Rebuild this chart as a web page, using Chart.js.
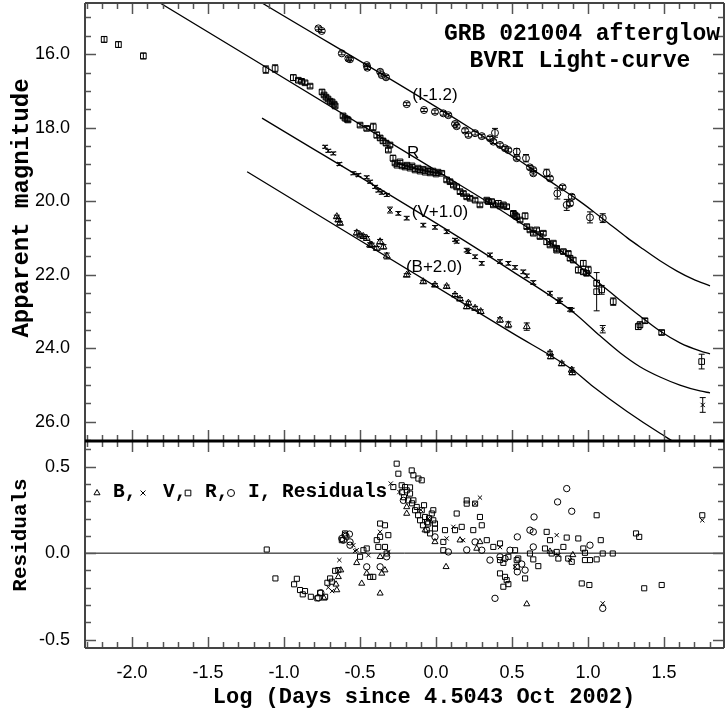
<!DOCTYPE html>
<html><head><meta charset="utf-8">
<script src="https://cdn.jsdelivr.net/npm/chart.js@4/dist/chart.umd.min.js"></script>
<style>
html,body{margin:0;padding:0;background:#fff;}
#wrap{position:relative;width:725px;height:713px;overflow:hidden;}
canvas{position:absolute;left:0;top:0;}
</style></head><body>
<div id="wrap"><canvas id="c1" width="725" height="713"></canvas><canvas id="c2" width="725" height="713"></canvas></div>
<script>
// ---------- axis ranges & tick labels ----------
const X_MIN = -2.31, X_MAX = 1.895;
const MAG_TOP = 14.61, MAG_BOTTOM = 26.52;
const RES_MIN = -0.548, RES_MAX = 0.648;
const magTickLabels = [16, 18, 20, 22, 24, 26];
const xTickLabels = [-2.0, -1.5, -1.0, -0.5, 0.0, 0.5, 1.0, 1.5];
const resTickLabels = [-0.5, 0.0, 0.5];

// ---------- light-curve data (log days, magnitude) ----------
const R_x = [-2.184,-2.09,-1.926,-1.12,-1.059,-0.939,-0.906,-0.884,-0.862,-0.829,-0.75,-0.737,-0.724,-0.711,-0.697,-0.684,-0.671,-0.664,-0.612,-0.599,-0.586,-0.579,-0.5,-0.456,-0.413,-0.39,-0.368,-0.349,-0.329,-0.303,-0.314,
 -0.283,-0.27,-0.257,-0.237,-0.224,-0.204,-0.191,-0.171,-0.158,-0.138,-0.118,-0.105,-0.086,-0.072,-0.053,-0.039,-0.02,0.0,0.013,0.038,
 0.07,0.092,0.114,0.136,0.158,0.18,0.202,0.224,0.257,0.289,0.334,0.344,0.366,0.377,0.41,0.421,0.443,0.465,0.509,0.52,0.531,0.553,0.586,0.597,0.618,0.64,0.662,0.684,0.706,0.728,0.75,0.772,0.794,0.794,0.838,0.87,0.882,0.903,0.936,0.969,0.991,0.969,1.002,1.057,1.057,1.09,1.166,1.331,1.342,1.375,1.485,1.748];
const R_mag = [15.60,15.74,16.05,16.42,16.39,16.64,16.71,16.74,16.78,16.87,17.03,17.11,17.17,17.22,17.28,17.30,17.36,17.41,17.68,17.74,17.77,17.79,17.93,18.02,17.98,18.20,18.28,18.36,18.42,18.47,18.61,
 18.83,18.96,19.02,18.93,19.04,19.07,19.02,19.10,19.04,19.15,19.10,19.18,19.13,19.21,19.15,19.23,19.18,19.26,19.21,19.24,
 19.42,19.47,19.56,19.61,19.74,19.79,19.88,19.92,19.97,20.10,19.97,20.01,20.01,20.10,20.06,20.13,20.10,20.15,20.33,20.38,20.42,20.51,20.40,20.69,20.78,20.87,20.78,20.96,20.87,21.10,21.19,21.14,21.28,21.33,21.37,21.42,21.55,21.60,21.87,21.92,21.96,21.69,21.87,22.23,22.46,22.41,22.73,23.41,23.36,23.25,23.57,24.36];
const R_err = [0.08,0.08,0.08,0.1,0.1,0.08,0.05,0.05,0.05,0.05,0.06,0.05,0.05,0.05,0.05,0.05,0.05,0.05,0.05,0.05,0.05,0.05,0.05,0.05,0.1,0.08,0.06,0.06,0.06,0.05,0.05,
 0.08,0.05,0.04,0.04,0.04,0.04,0.04,0.04,0.04,0.04,0.04,0.04,0.04,0.04,0.04,0.04,0.04,0.04,0.04,0.04,
 0.05,0.05,0.05,0.05,0.05,0.05,0.05,0.05,0.05,0.05,0.05,0.05,0.05,0.05,0.08,0.05,0.05,0.05,0.05,0.05,0.05,0.05,0.08,0.05,0.05,0.05,0.05,0.05,0.05,0.08,0.05,0.05,0.05,0.05,0.05,0.05,0.06,0.06,0.08,0.06,0.06,0.08,0.1,0.08,0.52,0.12,0.1,0.08,0.08,0.06,0.06,0.2];

const I_x = [-0.774,-0.752,-0.62,-0.577,-0.566,-0.456,-0.452,-0.368,-0.357,-0.329,-0.193,-0.079,-0.007,0.048,0.081,0.125,0.136,0.191,0.213,0.257,0.301,0.355,0.388,0.377,0.421,0.454,0.476,0.531,0.531,0.592,0.618,0.64,0.64,0.728,0.75,0.798,0.833,0.86,0.882,0.893,1.013,1.097];
const I_mag = [15.30,15.37,15.98,16.12,16.14,16.30,16.37,16.48,16.57,16.63,17.36,17.52,17.57,17.61,17.66,17.90,17.96,18.08,18.20,18.15,18.23,18.29,18.14,18.38,18.47,18.56,18.61,18.65,18.83,18.83,19.08,19.15,19.24,19.23,19.38,19.79,19.62,20.10,20.06,19.88,20.44,20.46];
const I_err = [0.04,0.04,0.04,0.04,0.04,0.04,0.05,0.05,0.05,0.05,0.04,0.04,0.05,0.05,0.05,0.05,0.05,0.05,0.05,0.05,0.05,0.05,0.12,0.05,0.05,0.05,0.05,0.08,0.05,0.1,0.05,0.05,0.05,0.1,0.05,0.15,0.05,0.15,0.06,0.06,0.15,0.12];

const V_x = [-0.73,-0.709,-0.676,-0.636,-0.544,-0.511,-0.456,-0.434,-0.401,-0.38,-0.357,-0.324,-0.303,-0.248,-0.193,-0.084,-0.007,0.07,0.125,0.136,0.202,0.213,0.257,0.301,0.355,0.421,0.476,0.52,0.574,0.597,0.64,0.75,0.805,0.816,0.882,0.893,1.097,1.755];
const V_mag = [18.52,18.63,18.70,18.99,19.24,19.29,19.35,19.47,19.61,19.71,19.77,19.83,20.24,20.33,20.46,20.65,20.71,20.83,21.05,21.10,21.33,21.37,21.51,21.69,21.46,21.64,21.69,21.80,21.92,22.03,22.21,22.50,22.73,22.68,22.94,22.96,23.48,25.54];
const V_err = [0.04,0.04,0.04,0.04,0.04,0.04,0.04,0.04,0.04,0.04,0.04,0.04,0.08,0.05,0.05,0.05,0.05,0.05,0.04,0.04,0.05,0.05,0.05,0.05,0.05,0.05,0.05,0.05,0.05,0.05,0.05,0.05,0.05,0.05,0.05,0.05,0.1,0.2];

const B_x = [-0.653,-0.643,-0.632,-0.522,-0.5,-0.478,-0.456,-0.434,-0.423,-0.39,-0.368,-0.346,-0.324,-0.193,-0.084,-0.007,0.07,0.125,0.158,0.202,0.213,0.257,0.294,0.421,0.476,0.597,0.75,0.755,0.827,0.893,0.897];
const B_mag = [20.42,20.51,20.60,20.86,20.92,20.96,21.01,21.19,21.19,21.28,21.10,21.24,21.49,22.01,22.19,22.28,22.32,22.55,22.66,22.87,22.77,22.91,23.00,23.23,23.36,23.41,24.13,24.23,24.42,24.59,24.66];
const B_err = [0.04,0.04,0.04,0.06,0.05,0.05,0.05,0.06,0.05,0.05,0.06,0.06,0.08,0.04,0.04,0.04,0.04,0.04,0.04,0.05,0.05,0.05,0.05,0.06,0.08,0.1,0.05,0.05,0.05,0.06,0.06];

// ---------- fitted model curves ----------
const fitI_x = [-1.145,0.224,0.816,0.928,1.033,1.145,1.257,1.362,1.474,1.586,1.691,1.803];
const fitI_mag = [14.61,18.01,19.64,19.95,20.27,20.63,20.99,21.30,21.62,21.90,22.12,22.30];
const fitR_x = [-1.816,0.026,0.5,0.816,1.033,1.211,1.342,1.474,1.605,1.737,1.803];
const fitR_mag = [14.61,19.23,20.44,21.33,22.09,22.69,23.12,23.53,23.85,24.07,24.15];
const fitV_x = [-1.145,0.072,0.5,0.901,1.079,1.211,1.342,1.474,1.605,1.737,1.803];
const fitV_mag = [17.74,20.78,21.90,23.01,23.66,24.12,24.50,24.78,25.00,25.16,25.21];
const fitB_x = [-1.243,0.5,0.901,1.033,1.257,1.474,1.671,1.803];
const fitB_mag = [19.20,23.58,24.59,25.04,25.72,26.31,26.79,26.98];

// ---------- residuals ----------
const resR_x = [-1.114,-1.057,-0.934,-0.916,-0.895,-0.877,-0.862,-0.824,-0.781,-0.763,
 -0.73,-0.715,-0.697,-0.686,-0.664,-0.643,-0.62,-0.599,-0.5,-0.478,
 -0.456,-0.434,-0.413,-0.39,-0.368,-0.336,-0.38,-0.368,-0.336,-0.314,-0.325,
 -0.259,-0.248,-0.281,-0.226,-0.204,-0.193,-0.171,-0.16,-0.149,-0.116,
 -0.094,-0.149,-0.127,-0.094,-0.072,-0.051,-0.061,-0.039,-0.018,-0.007,
 -0.028,-0.224,-0.211,-0.184,-0.158,-0.138,-0.118,-0.105,-0.086,-0.059,-0.046,-0.079,-0.171,
 -0.018,-0.007,0.059,0.048,0.048,0.136,0.125,0.169,0.202,0.202,
 0.257,0.245,0.289,0.301,0.334,0.421,0.377,0.421,0.443,0.52,
 0.531,0.476,0.421,0.454,0.465,0.476,0.443,0.586,0.531,0.541,
 0.618,0.673,0.64,0.717,0.728,0.75,0.761,0.794,0.805,0.838,
 0.86,0.87,0.893,0.936,0.969,0.98,1.013,0.98,1.057,1.057,
 0.959,1.009,1.084,1.097,1.163,1.316,1.337,1.37,1.485,1.752];
const resR_val = [0.021,-0.146,-0.18,-0.148,-0.213,-0.238,-0.219,-0.252,-0.261,-0.229,
 -0.252,-0.171,-0.146,-0.165,-0.102,-0.098,0.075,0.114,-0.021,0.017,
 0.027,-0.137,-0.137,0.075,0.171,0.161,0.036,0.094,0.036,0.104,-0.002,
 0.517,0.459,0.382,0.392,0.382,0.363,0.344,0.478,0.45,0.431,
 0.421,0.305,0.267,0.248,0.209,0.171,0.133,0.114,0.19,0.142,
 0.229,0.352,0.323,0.305,0.288,0.248,0.219,0.19,0.161,0.179,0.202,0.277,0.38,
 0.248,0.171,0.133,0.065,0.017,0.229,0.133,0.152,0.305,0.286,
 0.286,0.133,0.209,0.161,0.075,0.056,0.036,-0.04,-0.056,0.017,
 -0.04,-0.021,-0.117,-0.137,-0.156,-0.179,-0.194,-0.146,-0.079,-0.031,
 -0.002,-0.075,-0.036,0.027,0.123,0.075,-0.002,0.007,-0.031,0.036,
 0.09,-0.031,-0.05,0.085,0.027,0.002,-0.04,-0.04,-0.036,0.219,
 -0.175,-0.184,0.075,-0.002,-0.002,0.114,0.094,-0.203,-0.184,0.219];
const resI_x = [-0.774,-0.758,-0.61,-0.592,-0.57,-0.566,-0.62,-0.599,-0.566,-0.456,
 -0.368,-0.325,-0.215,-0.007,0.86,0.8,0.893,0.645,0.618,0.64,
 0.535,0.487,0.355,0.388,0.535,0.586,0.564,1.013,0.257,0.301,
 0.421,0.64,0.454,1.097,0.081,0.202];
const resI_val = [-0.258,-0.229,0.075,0.098,0.11,0.046,0.085,0.104,0.065,-0.079,
 -0.079,-0.021,0.305,0.094,0.373,0.296,0.242,0.209,0.133,0.123,
 0.094,0.017,-0.04,-0.261,-0.108,-0.098,-0.063,0.046,0.065,0.017,
 -0.021,0.036,-0.031,-0.319,0.007,0.019];
const resV_x = [-0.636,-0.709,-0.684,-0.544,-0.533,-0.298,-0.241,-0.522,-0.445,-0.368,
 -0.314,0.289,0.257,0.794,0.882,0.52,0.805,1.097,1.752,0.07,
 0.114,0.178,0.421,-0.1,-0.05];
const resV_val = [-0.04,-0.198,-0.219,0.046,0.013,0.402,0.353,0.017,-0.012,0.123,
 0.007,0.321,0.286,0.104,-0.04,-0.079,-0.012,-0.29,0.19,0.085,
 0.152,0.075,0.035,0.25,0.2];
const resB_x = [-0.737,-0.653,-0.643,-0.627,-0.522,-0.658,-0.489,-0.456,-0.368,-0.357,
 -0.336,-0.193,-0.193,-0.072,-0.007,-0.368,0.066,0.597,0.289,0.158,
 0.268,0.75,0.9];
const resB_val = [-0.261,-0.213,-0.137,-0.098,-0.056,-0.18,-0.175,-0.117,-0.232,-0.117,
 -0.098,0.267,0.229,0.133,0.065,-0.021,-0.079,-0.294,0.065,0.075,
 0.027,0.01,-0.01];
const zero_x = [X_MIN, X_MAX];
const zero_val = [0, 0];

// ---------- text ----------
const curveLabels = [
  {text:'(I-1.2)', x:-0.007, m:17.11},
  {text:'R', x:-0.151, m:18.69},
  {text:'(V+1.0)', x:0.026, m:20.29},
  {text:'(B+2.0)', x:-0.013, m:21.79}
];

// ---------- helpers ----------
const pts = (xs, ys) => xs.map((x, i) => ({x: x, y: ys[i]}));
const MONO = '"Liberation Mono", "DejaVu Sans Mono", monospace';
const SANS = '"Liberation Sans", Arial, sans-serif';

function line(ctx, x1, y1, x2, y2) { ctx.beginPath(); ctx.moveTo(x1, y1); ctx.lineTo(x2, y2); ctx.stroke(); }
function noPad(s) { s.paddingTop = 0; s.paddingBottom = 0; s.paddingLeft = 0; s.paddingRight = 0; }

const errorBarPlugin = {
  id: 'errbars',
  afterDatasetsDraw(chart) {
    const {ctx, chartArea: a, scales: {x, y}} = chart;
    ctx.save();
    ctx.beginPath(); ctx.rect(a.left, a.top, a.right - a.left, a.bottom - a.top); ctx.clip();
    ctx.strokeStyle = '#000'; ctx.lineWidth = 1;
    chart.data.datasets.forEach(ds => {
      if (!ds.errs) return;
      ds.data.forEach((p, i) => {
        const e = ds.errs[i]; if (!e) return;
        const px = x.getPixelForValue(p.x);
        const y1 = y.getPixelForValue(p.y - e), y2 = y.getPixelForValue(p.y + e);
        ctx.beginPath();
        ctx.moveTo(px, y1); ctx.lineTo(px, y2);
        ctx.moveTo(px - 3, y1); ctx.lineTo(px + 3, y1);
        ctx.moveTo(px - 3, y2); ctx.lineTo(px + 3, y2);
        ctx.stroke();
      });
    });
    ctx.restore();
  }
};

function drawXTicks(chart) {
  const {ctx, chartArea: a, scales: {x}} = chart;
  for (let k = -23; k <= 19; k++) {
    const v = k / 10;
    if (v < X_MIN || v > X_MAX) continue;
    const px = Math.round(x.getPixelForValue(v)) + 0.5;
    const len = (k % 5 === 0) ? 11 : 6;
    line(ctx, px, a.top, px, a.top + len);
    line(ctx, px, a.bottom, px, a.bottom - len);
  }
}
function drawYTicks(chart, vals, isMajor) {
  const {ctx, chartArea: a, scales: {y}} = chart;
  vals.forEach(v => {
    const py = Math.round(y.getPixelForValue(v)) + 0.5;
    const len = isMajor(v) ? 11 : 6;
    line(ctx, a.left, py, a.left + len, py);
    line(ctx, a.right, py, a.right - len, py);
  });
}

const topDecor = {
  id: 'topDecor',
  afterDraw(chart) {
    const {ctx, chartArea: a, scales: {x, y}} = chart;
    ctx.save();
    ctx.strokeStyle = '#555'; ctx.lineWidth = 1.5;
    drawXTicks(chart);
    const mv = []; for (let k = 30; k <= 53; k++) mv.push(k / 2);
    drawYTicks(chart, mv, v => Math.abs(v % 2) < 1e-9);
    ctx.strokeStyle = '#444'; ctx.lineWidth = 2;
    line(ctx, a.left, a.top, a.right, a.top);
    line(ctx, a.left, a.top, a.left, a.bottom);
    line(ctx, a.right, a.top, a.right, a.bottom);
    // curve labels
    ctx.fillStyle = '#000';
    ctx.font = '17px ' + SANS;
    ctx.textAlign = 'center'; ctx.textBaseline = 'middle';
    curveLabels.forEach(l => ctx.fillText(l.text, x.getPixelForValue(l.x), y.getPixelForValue(l.m)));
    // title
    ctx.font = 'bold 23px ' + MONO;
    ctx.fillText('GRB 021004 afterglow', 582, 34);
    ctx.fillText('BVRI Light-curve', 580, 61);
    // y title
    ctx.save();
    ctx.translate(22, 208); ctx.rotate(-Math.PI / 2);
    ctx.font = 'bold 24px ' + MONO;
    ctx.fillText('Apparent magnitude', 0, 0);
    ctx.restore();
    ctx.restore();
  }
};

const bottomDecor = {
  id: 'bottomDecor',
  afterDraw(chart) {
    const {ctx, chartArea: a} = chart;
    ctx.save();
    ctx.strokeStyle = '#555'; ctx.lineWidth = 1.5;
    drawXTicks(chart);
    const rv = []; for (let k = -5; k <= 6; k++) rv.push(k / 10);
    drawYTicks(chart, rv, v => Math.abs(Math.round(v * 10)) % 5 === 0);
    ctx.strokeStyle = '#444'; ctx.lineWidth = 2;
    line(ctx, a.left, a.bottom, a.right, a.bottom);
    line(ctx, a.left, a.top, a.left, a.bottom);
    line(ctx, a.right, a.top, a.right, a.bottom);
    ctx.strokeStyle = '#000'; ctx.lineWidth = 3;
    line(ctx, a.left, a.top, a.right, a.top);
    // legend inside panel
    ctx.fillStyle = '#000';
    ctx.textAlign = 'left'; ctx.textBaseline = 'middle';
    ctx.font = 'bold 19.5px ' + MONO;
    const ly = 492;
    ctx.fillText('B,', 113, ly);
    ctx.fillText('V,', 163, ly);
    ctx.fillText('R,', 205, ly);
    ctx.fillText('I,', 248, ly);
    ctx.fillText('Residuals', 282, ly);
    ctx.strokeStyle = '#000'; ctx.lineWidth = 1; ctx.fillStyle = 'rgba(0,0,0,0)';
    const dp = Chart.helpers.drawPoint;
    dp(ctx, {pointStyle: 'triangle', radius: 3.5, borderWidth: 1, rotation: 0}, 97, ly + 1);
    dp(ctx, {pointStyle: 'crossRot', radius: 3.5, borderWidth: 1, rotation: 0}, 143, ly + 1);
    ctx.fillStyle = '#fff';
    dp(ctx, {pointStyle: 'rect', radius: 4, borderWidth: 1, rotation: 0}, 188, ly + 1);
    ctx.fillStyle = 'rgba(0,0,0,0)';
    dp(ctx, {pointStyle: 'circle', radius: 3.5, borderWidth: 1, rotation: 0}, 231, ly + 1);
    // axis titles
    ctx.fillStyle = '#000';
    ctx.textAlign = 'center';
    ctx.font = 'bold 22px ' + MONO;
    ctx.fillText('Log (Days since 4.5043 Oct 2002)', 424, 697);
    ctx.save();
    ctx.translate(21, 535); ctx.rotate(-Math.PI / 2);
    ctx.font = 'bold 21px ' + MONO;
    ctx.fillText('Residuals', 0, 0);
    ctx.restore();
    ctx.restore();
  }
};

const fitStyle = {showLine: true, borderColor: '#000', borderWidth: 1.3, pointRadius: 0, fill: false, cubicInterpolationMode: 'monotone'};
const mk = (style, r) => ({pointStyle: style, pointRadius: r, pointHoverRadius: r, borderColor: '#000', backgroundColor: 'rgba(0,0,0,0)', pointBorderWidth: 1, borderWidth: 1, showLine: false});

const tickFont = {family: SANS, size: 18};

new Chart(document.getElementById('c1'), {
  type: 'scatter',
  data: {datasets: [
    Object.assign({data: pts(fitI_x, fitI_mag)}, fitStyle),
    Object.assign({data: pts(fitR_x, fitR_mag)}, fitStyle),
    Object.assign({data: pts(fitV_x, fitV_mag)}, fitStyle),
    Object.assign({data: pts(fitB_x, fitB_mag)}, fitStyle),
    Object.assign({data: pts(R_x, R_mag), errs: R_err}, mk('rect', 4)),
    Object.assign({data: pts(I_x, I_mag), errs: I_err}, mk('circle', 3.5)),
    Object.assign({data: pts(V_x, V_mag), errs: V_err}, mk('crossRot', 3)),
    Object.assign({data: pts(B_x, B_mag), errs: B_err}, mk('triangle', 4))
  ]},
  options: {
    responsive: false, animation: false, events: [],
    layout: {autoPadding: false, padding: {top: 3, right: 1, bottom: 272, left: 0}},
    plugins: {legend: {display: false}, tooltip: {enabled: false}},
    scales: {
      x: {type: 'linear', min: X_MIN, max: X_MAX, display: false},
      y: {type: 'linear', min: MAG_TOP, max: MAG_BOTTOM, reverse: true,
          afterFit: s => { s.width = 85; noPad(s); },
          afterBuildTicks: s => { s.ticks = magTickLabels.map(v => ({value: v})); },
          grid: {display: false, drawTicks: false}, border: {display: false},
          ticks: {font: tickFont, color: '#000', padding: 15, callback: v => Number(v).toFixed(1)}}
    }
  },
  plugins: [errorBarPlugin, topDecor]
});

new Chart(document.getElementById('c2'), {
  type: 'scatter',
  data: {datasets: [
    Object.assign({data: pts(zero_x, zero_val)}, fitStyle, {borderWidth: 1, cubicInterpolationMode: 'default'}),
    Object.assign({data: pts(resR_x, resR_val)}, mk('rect', 3.6)),
    Object.assign({data: pts(resI_x, resI_val)}, mk('circle', 3.2)),
    Object.assign({data: pts(resV_x, resV_val)}, mk('crossRot', 3)),
    Object.assign({data: pts(resB_x, resB_val)}, mk('triangle', 3.5))
  ]},
  options: {
    responsive: false, animation: false, events: [],
    layout: {autoPadding: false, padding: {top: 441, right: 1, bottom: 0, left: 0}},
    plugins: {legend: {display: false}, tooltip: {enabled: false}},
    scales: {
      x: {type: 'linear', min: X_MIN, max: X_MAX,
          afterFit: s => { s.height = 65; noPad(s); },
          afterBuildTicks: s => { s.ticks = xTickLabels.map(v => ({value: v})); },
          grid: {display: false, drawTicks: false}, border: {display: false},
          ticks: {font: tickFont, color: '#000', padding: 14, maxRotation: 0, autoSkip: false, callback: v => Number(v).toFixed(1)}},
      y: {type: 'linear', min: RES_MIN, max: RES_MAX,
          afterFit: s => { s.width = 85; noPad(s); },
          afterBuildTicks: s => { s.ticks = resTickLabels.map(v => ({value: v})); },
          grid: {display: false, drawTicks: false}, border: {display: false},
          ticks: {font: tickFont, color: '#000', padding: 15, callback: v => Number(v).toFixed(1)}}
    }
  },
  plugins: [bottomDecor]
});
</script>
</body></html>
